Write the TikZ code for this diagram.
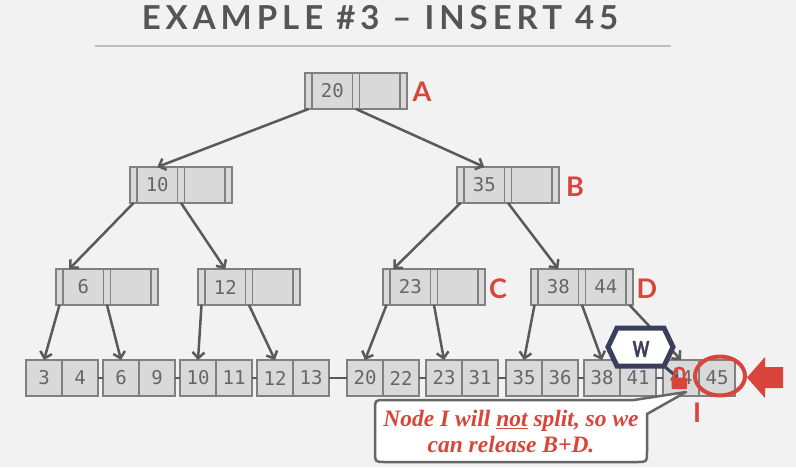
\documentclass[tikz,border=0pt]{standalone}
\usepackage{fontspec}
\setmainfont{Lato}
\newfontfamily\titlefont[LetterSpace=15]{Lato}
\newfontfamily\keyfontfam{DejaVu Sans Mono}
\newfontfamily\calloutfont{Liberation Serif}
\newfontfamily\wfont[FakeBold=1.6]{Lato}
\usetikzlibrary{arrows.meta,calc}
\definecolor{bg}{HTML}{F2F2F2}
\definecolor{cellfill}{HTML}{D9D9D9}
\definecolor{cellborder}{HTML}{808080}
\definecolor{edgegray}{HTML}{5A5A5A}
\definecolor{numgray}{HTML}{666666}
\definecolor{redc}{HTML}{D9453A}
\definecolor{navy}{HTML}{3C3E5E}
\definecolor{titlegray}{HTML}{555555}
\definecolor{rulegray}{HTML}{BDBDBD}
\definecolor{calloutborder}{HTML}{666666}
\newcommand\keyfont{\keyfontfam\fontsize{19}{19}\selectfont}
\newcommand\labelfont{\fontsize{27}{27}\selectfont\bfseries}
\tikzset{
  cellbase/.style={draw=cellborder, fill=cellfill, line width=1.3pt, minimum height=36pt,
    inner sep=0pt, outer sep=0pt, font=\keyfont, text=numgray},
  ptrcell/.style={cellbase, minimum width=7pt},
  keycell/.style={cellbase, minimum width=40.5pt},
  leafcell/.style={cellbase, minimum width=36pt},
  edge/.style={draw=edgegray, line width=2.5pt, -{Straight Barb[length=6pt,width=12pt]}},
  link/.style={draw=edgegray, line width=2.5pt},
  lbl/.style={text=redc, font=\labelfont, inner sep=0pt},
}
\newcommand\innernode[5]{%
  \node[ptrcell, anchor=north west] (#1-p0) at (#2,#3) {};
  \node[keycell, anchor=west] (#1-k1) at (#1-p0.east) {#4};
  \node[ptrcell, anchor=west] (#1-p1) at (#1-k1.east) {};
  \node[keycell, anchor=west] (#1-k2) at (#1-p1.east) {#5};
  \node[ptrcell, anchor=west] (#1-p2) at (#1-k2.east) {};
}
\newcommand\leafnode[4]{%
  \node[leafcell, anchor=north west] (#1-k1) at (#2,360) {#3};
  \node[leafcell, anchor=west] (#1-k2) at (#1-k1.east) {#4};
}
\begin{document}
\begin{tikzpicture}[x=1pt,y=-1pt]
\path[use as bounding box, fill=bg] (0,0) rectangle (796,467);
% title
\node[anchor=base, text=titlegray, inner sep=0pt] (title) at (380,29)
  {\titlefont\fontsize{33}{33}\selectfont\bfseries EXAMPLE \#3 – INSERT 45};
\coordinate (ruleL) at (95,46);
\coordinate (ruleR) at (671,46);
\draw[rulegray, line width=2.5pt] (ruleL) -- (ruleR);
% nodes
\innernode{A}{305}{73}{20}{}
\innernode{n10}{130}{167}{10}{}
\innernode{B}{457}{167}{35}{}
\innernode{n6}{56}{269}{6}{}
\innernode{n12}{198}{269}{12}{}
\innernode{C}{383}{269}{23}{}
\innernode{D}{531}{269}{38}{44}
\leafnode{L1}{26}{3}{4}
\leafnode{L2}{103}{6}{9}
\leafnode{L3}{180}{10}{11}
\leafnode{L4}{257}{12}{13}
\leafnode{L5}{347}{20}{22}
\leafnode{L6}{426}{23}{31}
\leafnode{L7}{506}{35}{36}
\leafnode{L8}{584}{38}{41}
\leafnode{L9}{663}{44}{45}
% edges
\draw[edge] (A-p0.south) -- (n10-k1.north);
\draw[edge] (A-p1.south) -- (B-k1.north);
\draw[edge] (n10-p0.south) -- ([xshift=-14pt]n6-k1.north);
\draw[edge] (n10-p1.south) -- (n12-k1.north);
\draw[edge] (B-p0.south) -- ([xshift=-17pt]C-k1.north);
\draw[edge] (B-p1.south) -- (D-k1.north);
\draw[edge] (n6-p0.south) -- (L1-k1.north);
\draw[edge] (n6-p1.south) -- (L2-k1.north);
\draw[edge] (n12-p0.south) -- (L3-k1.north);
\draw[edge] (n12-p1.south) -- (L4-k1.north);
\draw[edge] (C-p0.south) -- (L5-k1.north);
\draw[edge] (C-p1.south) -- (L6-k1.north);
\draw[edge] (D-p0.south) -- (L7-k1.north);
\draw[edge] (D-p1.south) -- (L8-k1.north);
\draw[edge] (D-p2.south) -- (L9-k1.north);
% leaf links
\draw[link] (L1-k2.east) -- (L2-k1.west);
\draw[link] (L2-k2.east) -- (L3-k1.west);
\draw[link] (L3-k2.east) -- (L4-k1.west);
\draw[link] (L4-k2.east) -- (L5-k1.west);
\draw[link] (L5-k2.east) -- (L6-k1.west);
\draw[link] (L6-k2.east) -- (L7-k1.west);
\draw[link] (L7-k2.east) -- (L8-k1.west);
\draw[link] (L8-k2.east) -- (L9-k1.west);
% labels
\node[lbl] (labA) at (422,92) {A};
\node[lbl] (labB) at (575,187) {B};
\node[lbl] (labC) at (498,289) {C};
\node[lbl] (labD) at (647,289) {D};
\node[lbl] (labI) at (697,413) {I};
% W latch hexagon
\draw[navy, line width=5pt, fill=white, line join=miter]
  (608,347) -- (617,328) -- (664,328) -- (673,347) -- (664,366) -- (617,366) -- cycle;
\node[text=navy, inner sep=0pt, font=\wfont\fontsize{22}{22}\selectfont\bfseries] (W) at (641,349) {\scalebox{0.72}[1]{W}};
\coordinate (hexbr) at (664,366);
\coordinate (lock) at (677,377);
\draw[navy, line width=3pt] (hexbr) -- (lock);
% lock
\draw[redc, line width=2.6pt] (674.5,379) -- (674.5,372) .. controls (674.5,366.5) and (684,366.5) .. (684,372) -- (684,379);
\fill[redc, rounded corners=1pt] (671.5,377.5) rectangle (687,389);
% red circle and arrow
\draw[redc, line width=4pt] (720,376) ellipse [x radius=25, y radius=19.5];
\fill[redc] (747,377.5) -- (765,357) -- (765,367) -- (783,367) -- (783,388) -- (765,388) -- (765,398) -- cycle;
% callout
\draw[fill=white, draw=calloutborder, line width=2.5pt, line join=round]
  (385,400) -- (634,400) -- (686,392) -- (647,414) -- (647,452)
  .. controls (647,462) .. (637,462) -- (385,462)
  .. controls (375,462) .. (375,452) -- (375,410)
  .. controls (375,400) .. (385,400) -- cycle;
\node[text=redc, align=center, inner sep=0pt, font=\calloutfont\fontsize{23.5}{26}\selectfont\bfseries\itshape] (callout) at (511,432)
  {Node I will \underline{not} split, so we\\can release B+D.};
\end{tikzpicture}
\end{document}
